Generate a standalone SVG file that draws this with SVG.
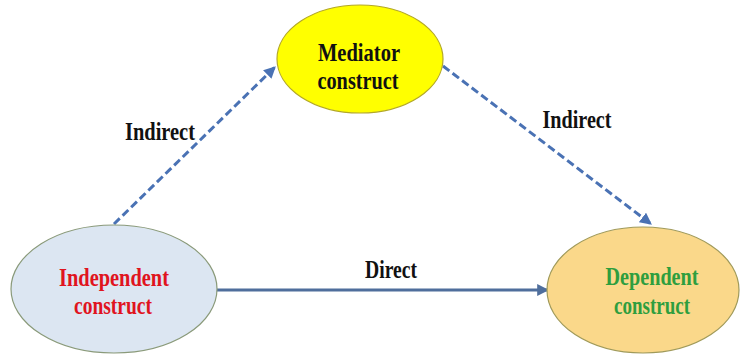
<svg xmlns="http://www.w3.org/2000/svg" width="745" height="358" viewBox="0 0 745 358">
<style>
text{font-family:'Liberation Serif','DejaVu Serif',serif;font-weight:bold;font-size:26px;text-anchor:middle}
.lbl{fill:#111}
.dash{fill:none;stroke:#4a72b4;stroke-width:3;stroke-dasharray:8 4}
.solid{fill:none;stroke:#4f6e9c;stroke-width:3}
</style>
<defs>
<marker id="ah" viewBox="0 0 10 10" refX="9" refY="5" markerWidth="4" markerHeight="4" orient="auto" markerUnits="strokeWidth">
<path d="M0,0 L10,5 L0,10 z" fill="#4a72b4"/>
</marker>
<marker id="ah2" viewBox="0 0 10 10" refX="9" refY="5" markerWidth="4" markerHeight="4" orient="auto" markerUnits="strokeWidth">
<path d="M0,0 L10,5 L0,10 z" fill="#4f6e9c"/>
</marker>
</defs>
<rect width="745" height="358" fill="#ffffff"/>
<g id="connectors">
<line class="dash" x1="114" y1="224" x2="275" y2="67" marker-end="url(#ah)"/>
<line class="dash" x1="443" y1="66" x2="651" y2="224" marker-end="url(#ah)"/>
<line class="solid" x1="215" y1="290" x2="548" y2="290" marker-end="url(#ah2)"/>
<text class="lbl" x="160" y="140" textLength="70" lengthAdjust="spacingAndGlyphs">Indirect</text>
<text class="lbl" x="577" y="128" textLength="69" lengthAdjust="spacingAndGlyphs">Indirect</text>
<text class="lbl" x="391" y="278" textLength="52" lengthAdjust="spacingAndGlyphs">Direct</text>
</g>
<g id="mediator">
<ellipse cx="360" cy="59" rx="83" ry="54" fill="#ffff00" stroke="#b3a827" stroke-width="1.2"/>
<text class="lbl" x="359" y="61" textLength="82" lengthAdjust="spacingAndGlyphs">Mediator</text>
<text class="lbl" x="358" y="89" textLength="81" lengthAdjust="spacingAndGlyphs">construct</text>
</g>
<g id="independent">
<ellipse cx="114" cy="289" rx="103" ry="64" fill="#dce6f2" stroke="#8a9a7a" stroke-width="1.2"/>
<text x="114" y="286" fill="#e0141e" textLength="110" lengthAdjust="spacingAndGlyphs">Independent</text>
<text x="113" y="314" fill="#e0141e" textLength="78" lengthAdjust="spacingAndGlyphs">construct</text>
</g>
<g id="dependent">
<ellipse cx="643" cy="290" rx="96" ry="63" fill="#fad88a" stroke="#a09a5a" stroke-width="1.2"/>
<text x="652" y="285" fill="#2e9e3e" textLength="93" lengthAdjust="spacingAndGlyphs">Dependent</text>
<text x="652" y="314" fill="#2e9e3e" textLength="76" lengthAdjust="spacingAndGlyphs">construct</text>
</g>
</svg>
